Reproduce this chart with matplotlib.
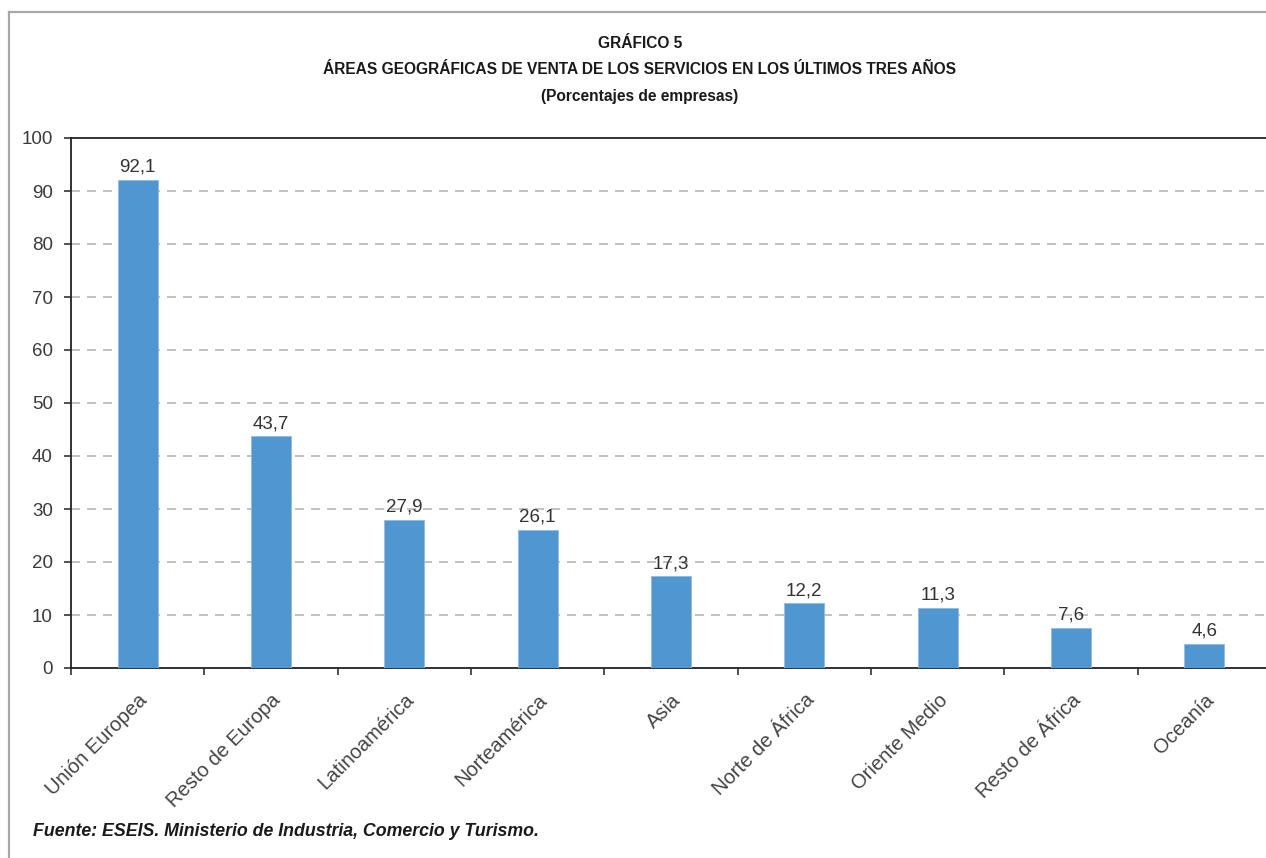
import matplotlib
matplotlib.use("Agg")
import matplotlib.pyplot as plt
import matplotlib.transforms as mtransforms
from matplotlib.lines import Line2D

categories = ["Unión Europea", "Resto de Europa", "Latinoamérica", "Norteamérica",
              "Asia", "Norte de África", "Oriente Medio", "Resto de África", "Oceanía"]
values = [92.1, 43.7, 27.9, 26.1, 17.3, 12.2, 11.3, 7.6, 4.6]
yticks = [0, 10, 20, 30, 40, 50, 60, 70, 80, 90, 100]

plt.rcParams['font.family'] = ['Liberation Sans', 'DejaVu Sans']

W, H = 1266, 858
fig = plt.figure(figsize=(W / 100, H / 100), dpi=100)

ax = fig.add_axes([71 / W, 1 - 668 / H, 1200 / W, (668 - 138) / H])
x = list(range(len(categories)))
ax.bar(x, values, width=0.3, color='#5097D2', edgecolor='#8DBCE6', linewidth=0.6, zorder=3)

ax.set_xlim(-0.5, len(categories) - 0.5)
ax.set_ylim(0, 100)
ax.set_yticks(yticks)
ax.set_yticklabels([str(t) for t in yticks], fontsize=13.5, color='#3a3a3a')
for t in yticks[1:-1]:
    ax.axhline(t, color='#b5b5b5', linewidth=1.2, dashes=(5.4, 4.2), zorder=1)

ax.set_xticks([i - 0.5 for i in range(len(categories) + 1)])
ax.set_xticklabels([])
ax.set_xticks(x, minor=True)
ax.set_xticklabels(categories, minor=True, rotation=45, ha='right', rotation_mode='anchor',
                   fontsize=14.5, color='#444444')
offset = mtransforms.ScaledTranslation(14 / 100, 0, fig.dpi_scale_trans)
for lab in ax.get_xticklabels(minor=True):
    lab.set_transform(lab.get_transform() + offset)
ax.tick_params(axis='x', which='minor', length=0, pad=16)
ax.tick_params(axis='x', which='major', length=5, width=1.2, color='#333333', direction='out')
ax.tick_params(axis='y', length=5, width=1.2, color='#333333', direction='out', pad=8)

for side in ['left', 'bottom', 'top']:
    ax.spines[side].set_color('#222222')
    ax.spines[side].set_linewidth(1.3)
ax.spines['right'].set_visible(False)

for xi, v in zip(x, values):
    ax.annotate(f"{v:.1f}".replace('.', ','), (xi, v), xytext=(0, 3), textcoords='offset points',
                ha='center', va='bottom', fontsize=13.5, color='#333333')

title_kw = dict(ha='center', va='center', fontsize=11.2, fontweight='bold', color='#1a1a1a')
fig.text(640 / W, 1 - 43 / H, "GRÁFICO 5", **title_kw)
fig.text(640 / W, 1 - 70 / H, "ÁREAS GEOGRÁFICAS DE VENTA DE LOS SERVICIOS EN LOS ÚLTIMOS TRES AÑOS",
         **title_kw)
fig.text(640 / W, 1 - 97 / H, "(Porcentajes de empresas)", **title_kw)

fig.text(33 / W, 1 - 831 / H, "Fuente: ESEIS. Ministerio de Industria, Comercio y Turismo.",
         ha='left', va='center', fontsize=12.8, fontweight='bold', style='italic', color='#1a1a1a')

# frame border (top and left)
fig.add_artist(Line2D([9 / W, 1.0], [1 - 12 / H, 1 - 12 / H], transform=fig.transFigure,
                      color='#a8a8a8', linewidth=1.6))
fig.add_artist(Line2D([9 / W, 9 / W], [0, 1 - 12 / H], transform=fig.transFigure,
                      color='#a8a8a8', linewidth=1.6))

fig.savefig("out.png", dpi=100)
